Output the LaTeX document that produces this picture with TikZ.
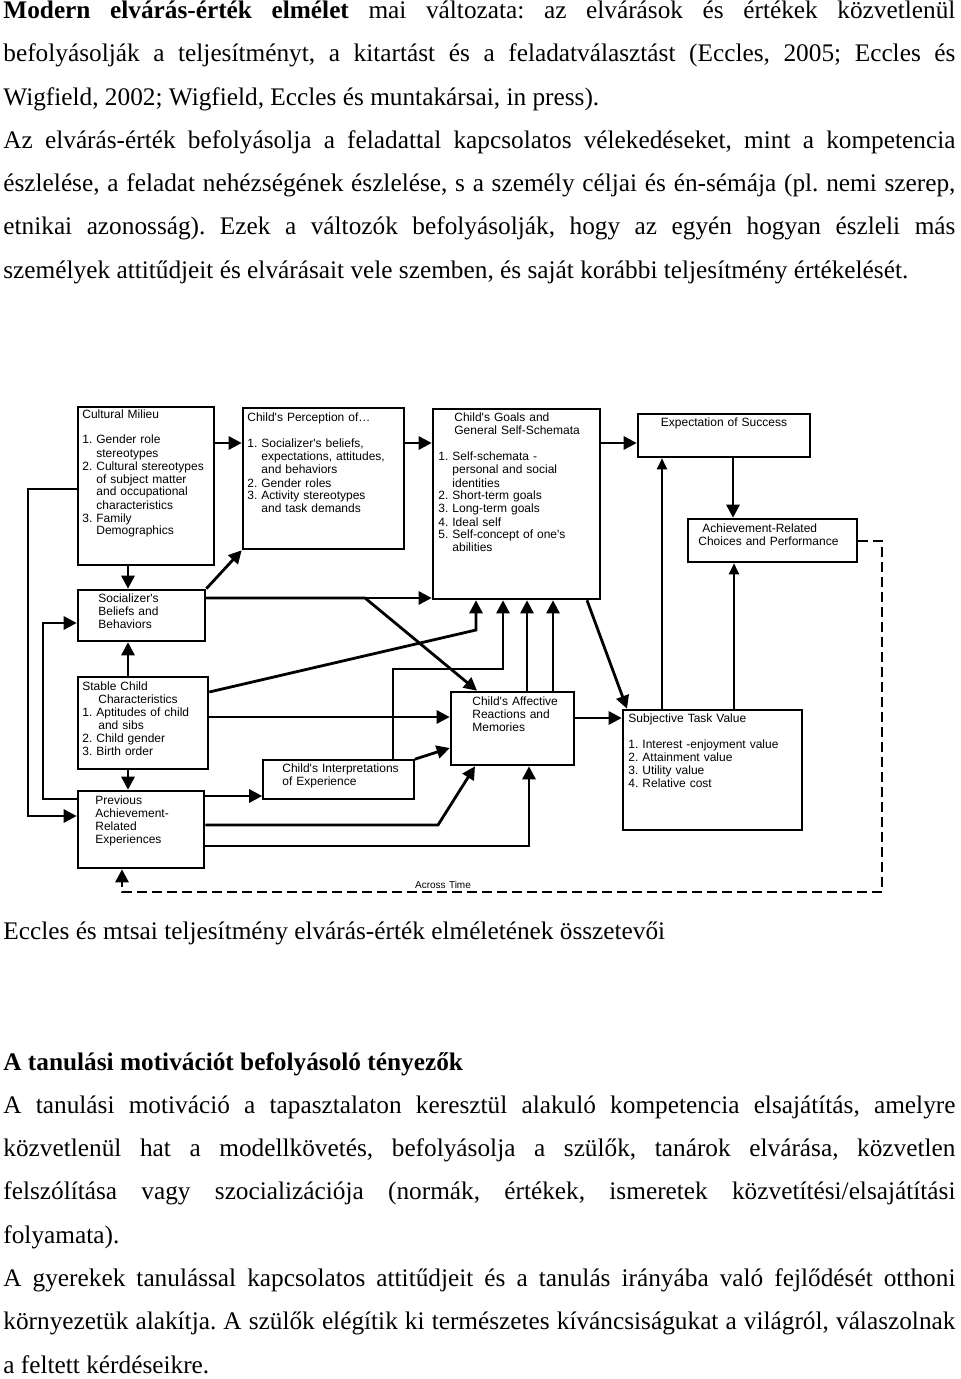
\documentclass[tikz,border=0pt]{standalone}
\usepackage{fontspec}
\setmainfont{Liberation Serif}
\newfontfamily\diagfont{Liberation Sans}
\usetikzlibrary{arrows.meta,fit}
\frenchspacing
\newcommand{\jline}[1]{{\spaceskip=0pt\xspaceskip=0pt\makebox[476pt][s]{#1}}}

\begin{document}
\begin{tikzpicture}[x=0.5pt, y=-0.5pt,
    box/.style={draw, line width=1.3pt, inner sep=0pt},
    thinbox/.style={draw, line width=0.8pt, inner sep=0pt},
    txt/.style={anchor=base west, inner sep=0pt, text width=95pt, align=left, font=\diagfont\fontsize{6}{6.5}\selectfont},
    arr/.style={-{Triangle[length=6.5pt,width=6.5pt]}, line width=1.4pt},
    thinarr/.style={-{Triangle[length=5.5pt,width=5pt]}, line width=1pt},
    feedback/.style={line width=1.3pt, dash pattern=on 5pt off 2.5pt},
    para/.style={anchor=base west, inner sep=0pt, text width=476pt, align=justify, font=\fontsize{12.65}{21.65}\selectfont}]
    \useasboundingbox (0,0) rectangle (960,1379);

    \node [para] (intro) at (3,18.5) {\jline{\textbf{Modern elvárás-érték elmélet} mai változata: az elvárások és értékek közvetlenül}\\
        \jline{befolyásolják a teljesítményt, a kitartást és a feladatválasztást (Eccles, 2005; Eccles és}\\
        Wigfield, 2002; Wigfield, Eccles és muntakársai, in press).\\
        \jline{Az elvárás-érték befolyásolja a feladattal kapcsolatos vélekedéseket, mint a kompetencia}\\
        \jline{észlelése, a feladat nehézségének észlelése, s a személy céljai és én-sémája (pl. nemi szerep,}\\
        \jline{etnikai azonosság). Ezek a változók befolyásolják, hogy az egyén hogyan észleli más}\\
        személyek attitűdjeit és elvárásait vele szemben, és saját korábbi teljesítmény értékelését.};

    \node [box, fit={(78,407) (214,565)}] (cult) {};
    \node [box, fit={(243,408) (404,549)}] (perc) {};
    \node [box, fit={(433,409) (600,599)}] (goals) {};
    \node [box, fit={(638,414) (810,457)}] (expect) {};
    \node [box, fit={(688,519) (857,562)}] (achieve) {};
    \node [box, fit={(78,590) (205,641)}] (soc) {};
    \node [box, fit={(78,677) (208,769)}] (stable) {};
    \node [box, fit={(78,791) (204,868)}] (prev) {};
    \node [thinbox, fit={(263,760) (414,799)}] (interp) {};
    \node [box, fit={(451,692) (574,765)}] (affect) {};
    \node [box, fit={(623,710) (802,830)}] (stv) {};

    \node [txt] (cultT) at (82,418) {Cultural Milieu\\[6.5pt]
        1. Gender role\\ \phantom{1. }stereotypes\\ 2. Cultural stereotypes\\ \phantom{2. }of subject matter\\
        \phantom{2. }and occupational\\ \phantom{2. }characteristics\\ 3. Family\\ \phantom{3. }Demographics};
    \node [txt] (percT) at (247,422) {Child's Perception of\ldots\\[6.5pt]
        1. Socializer's beliefs,\\ \phantom{1. }expectations, attitudes,\\ \phantom{1. }and behaviors\\
        2. Gender roles\\ 3. Activity stereotypes\\ \phantom{3. }and task demands};
    \node [txt] (goalsT) at (438,422) {\hspace*{8pt}Child's Goals and\\ \hspace*{8pt}General Self-Schemata\\[6.5pt]
        1. Self-schemata -\\ \phantom{1. }personal and social\\ \phantom{1. }identities\\ 2. Short-term goals\\
        3. Long-term goals\\ 4. Ideal self\\ 5. Self-concept of one's\\ \phantom{5. }abilities};
    \node [txt, anchor=base, align=center] (expectT) at (724,427) {Expectation of Success};
    \node [txt] (achieveT) at (698,532) {\hspace*{2pt}Achievement-Related\\ Choices and Performance};
    \node [txt] (socT) at (98,602) {Socializer's\\ Beliefs and\\ Behaviors};
    \node [txt] (stableT) at (82,690) {Stable Child\\ \hspace*{8pt}Characteristics\\ 1. Aptitudes of child\\
        \hspace*{8pt}and sibs\\ 2. Child gender\\ 3. Birth order};
    \node [txt] (prevT) at (95,804) {Previous\\ Achievement-\\ Related\\ Experiences};
    \node [txt] (interpT) at (282,772) {Child's Interpretations\\ of Experience};
    \node [txt] (affectT) at (472,705) {Child's Affective\\ Reactions and\\ Memories};
    \node [txt] (stvT) at (628,722) {Subjective Task Value\\[6.5pt]
        1. Interest -enjoyment value\\ 2. Attainment value\\ 3. Utility value\\ 4. Relative cost};
    \node [txt, anchor=base, align=center, font=\diagfont\fontsize{5}{6}\selectfont] (time) at (443,888) {Across Time};

    \draw [arr] (cult.east |- 0,443) -- (perc.west |- 0,443);
    \draw [arr] (perc.east |- 0,443) -- (goals.west |- 0,443);
    \draw [arr] (goals.east |- 0,443) -- (expect.west |- 0,443);
    \draw [arr] (733,0 |- expect.south) -- (733,0 |- achieve.north);
    \draw [arr] (128,0 |- cult.south) -- (128,0 |- soc.north);
    \draw [arr] (soc.north east) -- (perc.south west);
    \draw [arr] (soc.east |- 0,598) -- (goals.west |- 0,598);
    \draw [arr] (soc.east |- 0,598) -- (365,598) -- (477,0 |- affect.north);
    \draw [arr] (128,0 |- stable.north) -- (128,0 |- soc.south);
    \draw [arr] (128,0 |- stable.south) -- (128,0 |- prev.north);
    \draw [arr] (stable.east |- 0,692) -- (476,630) -- (476,0 |- goals.south);
    \draw [arr] (393,0 |- interp.north) -- (393,669) -- (503,669) -- (503,0 |- goals.south);
    \draw [arr] (527,0 |- affect.north) -- (527,0 |- goals.south);
    \draw [arr] (553,0 |- affect.north) -- (553,0 |- goals.south);
    \draw [arr] (stable.east |- 0,717) -- (affect.west |- 0,717);
    \draw [arr] (interp.north east) -- (affect.west |- 0,748);
    \draw [arr] (prev.east |- 0,796) -- (interp.west |- 0,796);
    \draw [arr] (prev.east |- 0,825) -- (438,825) -- (475,0 |- affect.south);
    \draw [arr] (prev.east |- 0,846) -- (529,846) -- (529,0 |- affect.south);
    \draw [arr] (affect.east |- 0,718) -- (stv.west |- 0,718);
    \draw [arr] (587,0 |- goals.south) -- (627,0 |- stv.north);
    \draw [thinarr, {Triangle[length=5.5pt,width=5pt]}-] (662,0 |- expect.south) -- (662,0 |- stv.north);
    \draw [thinarr] (734,0 |- stv.north) -- (734,0 |- achieve.south);
    \draw [arr, {Triangle[length=6.5pt,width=6.5pt]}-] (soc.west |- 0,623) -- (43,623) -- (43,799) -- (prev.west |- 0,799);
    \draw [arr] (cult.west |- 0,489) -- (28,489) -- (28,816) -- (prev.west |- 0,816);
    \draw [feedback] (achieve.east |- 0,541) -- (882,541) -- (882,892) -- (122,892) -- (122,880);
    \draw [arr] (122,880) -- (122,0 |- prev.south);

    \node [para] (caption) at (3,939) {Eccles és mtsai teljesítmény elvárás-érték elméletének összetevői};

    \node [para] (factors) at (3,1070) {\textbf{A tanulási motivációt befolyásoló tényezők}\\
        \jline{A tanulási motiváció a tapasztalaton keresztül alakuló kompetencia elsajátítás, amelyre}\\
        \jline{közvetlenül hat a modellkövetés, befolyásolja a szülők, tanárok elvárása, közvetlen}\\
        \jline{felszólítása vagy szocializációja (normák, értékek, ismeretek közvetítési/elsajátítási}\\
        folyamata).\\
        \jline{A gyerekek tanulással kapcsolatos attitűdjeit és a tanulás irányába való fejlődését otthoni}\\
        \jline{környezetük alakítja. A szülők elégítik ki természetes kíváncsiságukat a világról, válaszolnak}\\
        a feltett kérdéseikre.};
\end{tikzpicture}
\end{document}
